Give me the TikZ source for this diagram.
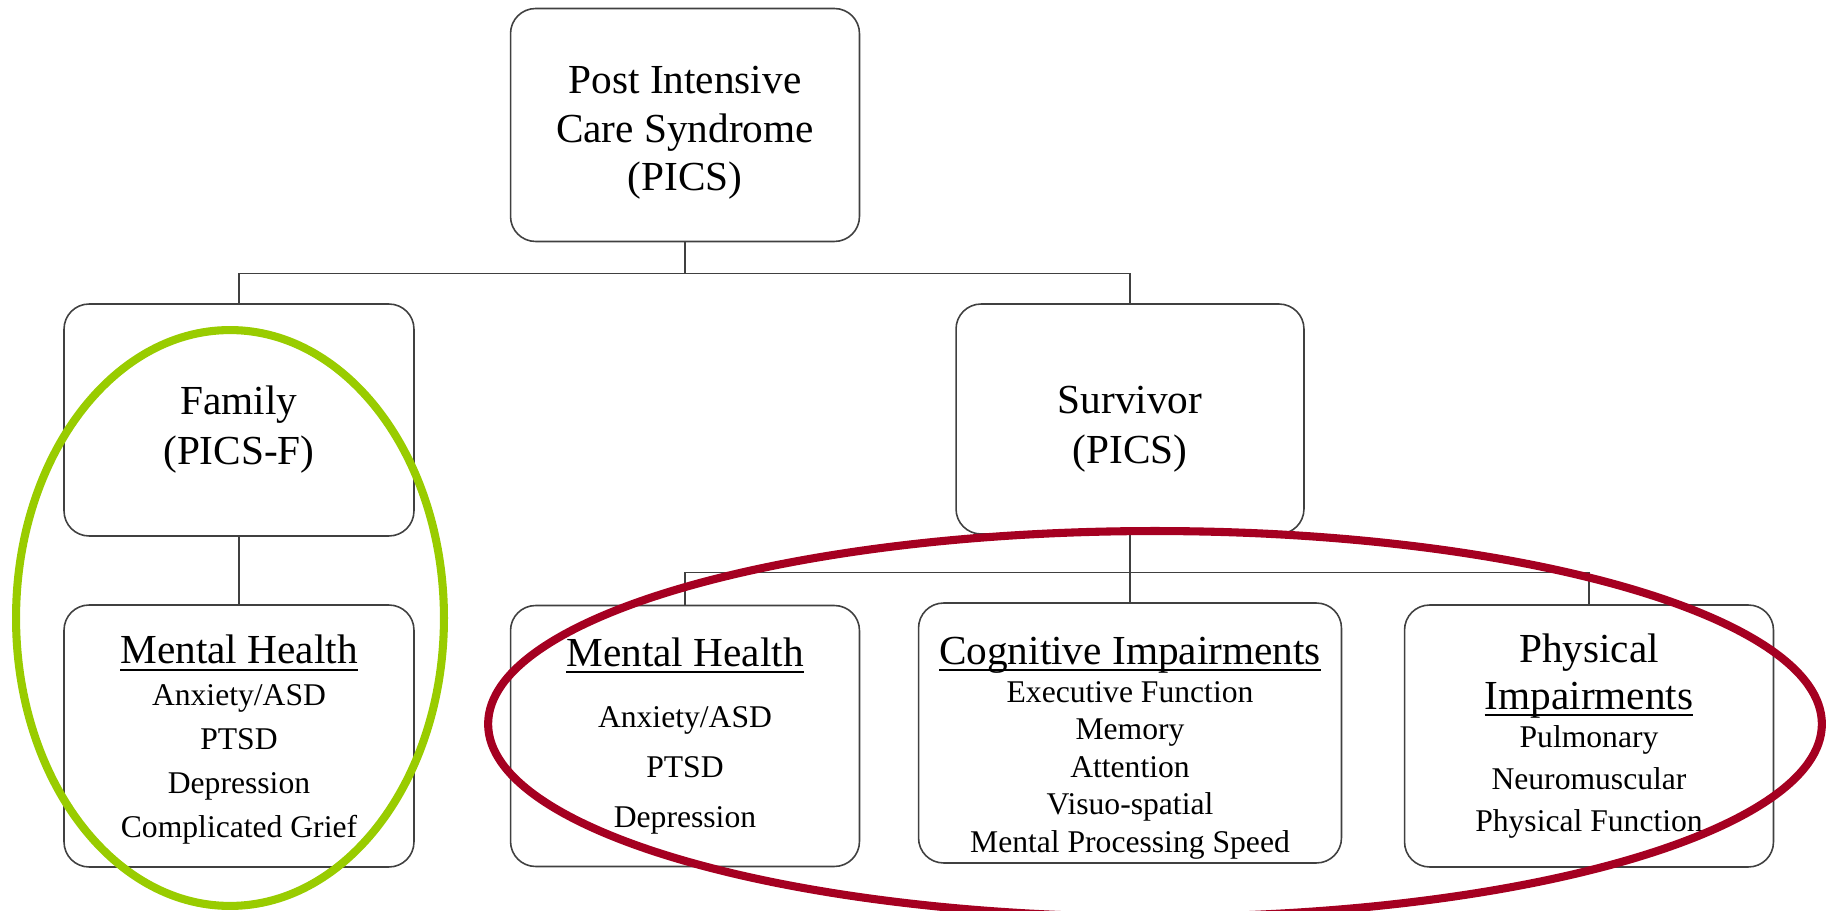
\documentclass[tikz,border=0pt]{standalone}
\usepackage{fontspec}
\setmainfont{Liberation Serif}
\usetikzlibrary{calc,positioning}
\usepackage{xcolor}
\definecolor{ringgreen}{HTML}{99CC00}
\definecolor{ringred}{HTML}{A50021}
\newcommand{\headtxt}[1]{{\fontsize{23.5}{28}\selectfont #1}}
\newcommand{\ulhead}[1]{\headtxt{\setbox0\hbox{#1}\rlap{\rule[-4pt]{\wd0}{1pt}}\box0}}

\begin{document}
\begin{tikzpicture}[x=0.02cm, y=-0.02cm,
  box/.style={draw=black!75, line width=0.9pt, rounded corners=0.5cm, align=center, inner sep=0pt},
  link/.style={draw=black!75, line width=0.8pt},
  ring/.style={line width=4.6pt}]
\useasboundingbox (0,0) rectangle (1832,911);
% Top box
\node[box, minimum width=6.98cm, minimum height=4.66cm, font=\fontsize{23.5}{27.5}\selectfont] (pics) at (685,125) {\rule{0pt}{24.5pt}Post Intensive\\Care Syndrome\\(PICS)};
% Family and survivor
\node[box, minimum width=7cm, minimum height=4.64cm, font=\fontsize{23.5}{28.5}\selectfont] (family) at (239,420) {\rule{0pt}{27pt}Family\\(PICS-F)};
\node[box, minimum width=6.96cm, minimum height=4.6cm, font=\fontsize{23.5}{28.5}\selectfont] (survivor) at (1130,419) {\rule{0pt}{27pt}Survivor\\(PICS)};
% Bottom row
\node[box, minimum width=7cm, minimum height=5.24cm, font=\fontsize{18}{25}\selectfont] (fmh) at (239,736) {\rule{0pt}{20.5pt}\ulhead{Mental Health}\\[-1pt]Anxiety/ASD\\PTSD\\Depression\\Complicated Grief};
\node[box, minimum width=6.98cm, minimum height=5.22cm, font=\fontsize{18}{28.5}\selectfont] (smh) at (685,736) {\ulhead{Mental Health}\\[6.5pt]Anxiety/ASD\\PTSD\\Depression};
\node[box, minimum width=8.46cm, minimum height=5.2cm, font=\fontsize{18}{21.3}\selectfont] (cog) at (1130,733) {\rule{0pt}{32.5pt}\ulhead{Cognitive Impairments}\\[0.5pt]Executive Function\\Memory\\Attention\\Visuo-spatial\\Mental Processing Speed};
\node[box, minimum width=7.38cm, minimum height=5.24cm, font=\fontsize{18}{24}\selectfont] (phys) at (1589,736) {\headtxt{Physical}\\[2.7pt]\ulhead{Impairments}\\[-2.4pt]Pulmonary\\Neuromuscular\\Physical Function};
% Connectors
\draw[link] (pics.south) -- ++(0,31) -| (family.north);
\draw[link] (pics.south) -- ++(0,31) -| (survivor.north);
\draw[link] (family) -- (fmh);
\foreach \b in {smh,cog,phys} {
    \draw[link] (survivor.south) -- ++(0,38) -| (\b.north);
}
% Rings
\draw[ring, ringgreen] (230,618) ellipse [x radius=4.28cm, y radius=5.76cm];
\draw[ring, ringred] (1155,724) ellipse [x radius=13.34cm, y radius=3.86cm];
\end{tikzpicture}
\end{document}
